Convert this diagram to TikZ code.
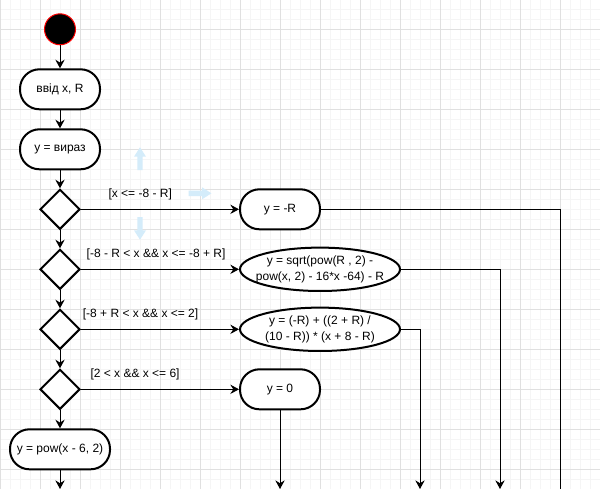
\documentclass[tikz,border=0pt]{standalone}
\usepackage{fontspec}
\setmainfont{Liberation Sans}
\usetikzlibrary{arrows.meta,shapes.geometric}
\definecolor{gridmajor}{RGB}{224,224,224}
\definecolor{gridminor}{RGB}{245,245,245}
\definecolor{hintblue}{RGB}{212,236,250}
\newcommand\ovaltext[2]{\makebox[0pt]{\begin{tabular}{@{}c@{}}#1\\#2\end{tabular}}}
\tikzset{
term/.style={draw,fill=white,line width=1.5pt,rounded corners=14.6pt,minimum width=60pt,minimum height=30pt,inner sep=0pt},
oval/.style={draw,fill=white,ellipse,line width=1.5pt,minimum width=120pt,minimum height=30pt,inner sep=0pt},
choice/.style={draw,fill=white,diamond,line width=1.5pt,minimum width=30pt,minimum height=30pt,inner sep=0pt},
flow/.style={line width=0.75pt,-{Stealth[length=6.5pt,width=7pt,inset=2.2pt]}},
wire/.style={line width=0.75pt},
guard/.style={yshift=11.25pt,inner sep=0pt}
}
\begin{document}
\begin{tikzpicture}[x=0.75pt,y=-0.75pt,font=\fontsize{9}{11.5}\selectfont]
\useasboundingbox(0,0)rectangle(600,489);
\fill[white](0,0)rectangle(600,489);
\foreach \g in {0,10,...,600}\draw[gridminor,line width=0.75pt](\g,0)--(\g,489);
\foreach \g in {9.3,19.3,...,489}\draw[gridminor,line width=0.75pt](0,\g)--(600,\g);
\foreach \g in {0,40,...,600}\draw[gridmajor,line width=0.75pt](\g,0)--(\g,489);
\foreach \g in {29.3,69.3,...,489}\draw[gridmajor,line width=0.75pt](0,\g)--(600,\g);
\foreach \ax/\ay/\ang in {140/158.7/0,200/193.3/-90,140/228.3/180}
  \fill[hintblue,shift={(\ax,\ay)},rotate=\ang](-2.7,11.3)--(-2.7,-2)--(-6,-2)--(0,-11.4)--(6,-2)--(2.7,-2)--(2.7,11.3)--cycle;
\node[circle,draw=red,fill=black,line width=0.75pt,minimum size=23.25pt,inner sep=0pt](start)at(60,29.3){};
\node[term](input)at(60,89.3){ввід x, R};
\node[term](expr)at(60,149.3){y = вираз};
\node[choice](c1)at(60,209.3){};
\node[choice](c2)at(60,269.3){};
\node[choice](c3)at(60,329.3){};
\node[choice](c4)at(60,389.3){};
\node[term,minimum width=75pt](sq)at(60,449.3){y = pow(x - 6, 2)};
\node[term](b1)at(280,209.3){y = -R};
\node[oval](b2)at(320,269.3){\ovaltext{y = sqrt(pow(R , 2) -}{pow(x, 2) - 16*x -64) - R}};
\node[oval](b3)at(320,329.3){\ovaltext{y = (-R) + ((2 + R) /}{(10 - R)) * (x + 8 - R)}};
\node[term](b4)at(280,389.3){y = 0};
\draw[flow](start)--(input);
\draw[flow](input)--(expr);
\draw[flow](expr)--(c1);
\draw[flow](c1)--(c2);
\draw[flow](c2)--(c3);
\draw[flow](c3)--(c4);
\draw[flow](c4)--(sq);
\draw[flow](c1)--node[guard,pos=0.375]{[x <= -8 - R]}(b1);
\draw[flow](c2)--node[guard,pos=0.475]{[-8 - R < x \&\& x <= -8 + R]}(b2);
\draw[flow](c3)--node[guard,pos=0.377]{[-8 + R < x \&\& x <= 2]}(b3);
\draw[flow](c4)--node[guard,pos=0.342]{[2 < x \&\& x <= 6]}(b4);
\coordinate(j1)at(560,500);
\coordinate(j2)at(500,489);
\coordinate(j3)at(420,489);
\coordinate(j4)at(280,489);
\coordinate(j5)at(60,489);
\draw[wire](b1.east)-|(j1);
\draw[flow](b2.east)-|(j2);
\draw[flow](b3.east)-|(j3);
\draw[flow](b4)--(j4);
\draw[flow](sq)--(j5);
\end{tikzpicture}
\end{document}
